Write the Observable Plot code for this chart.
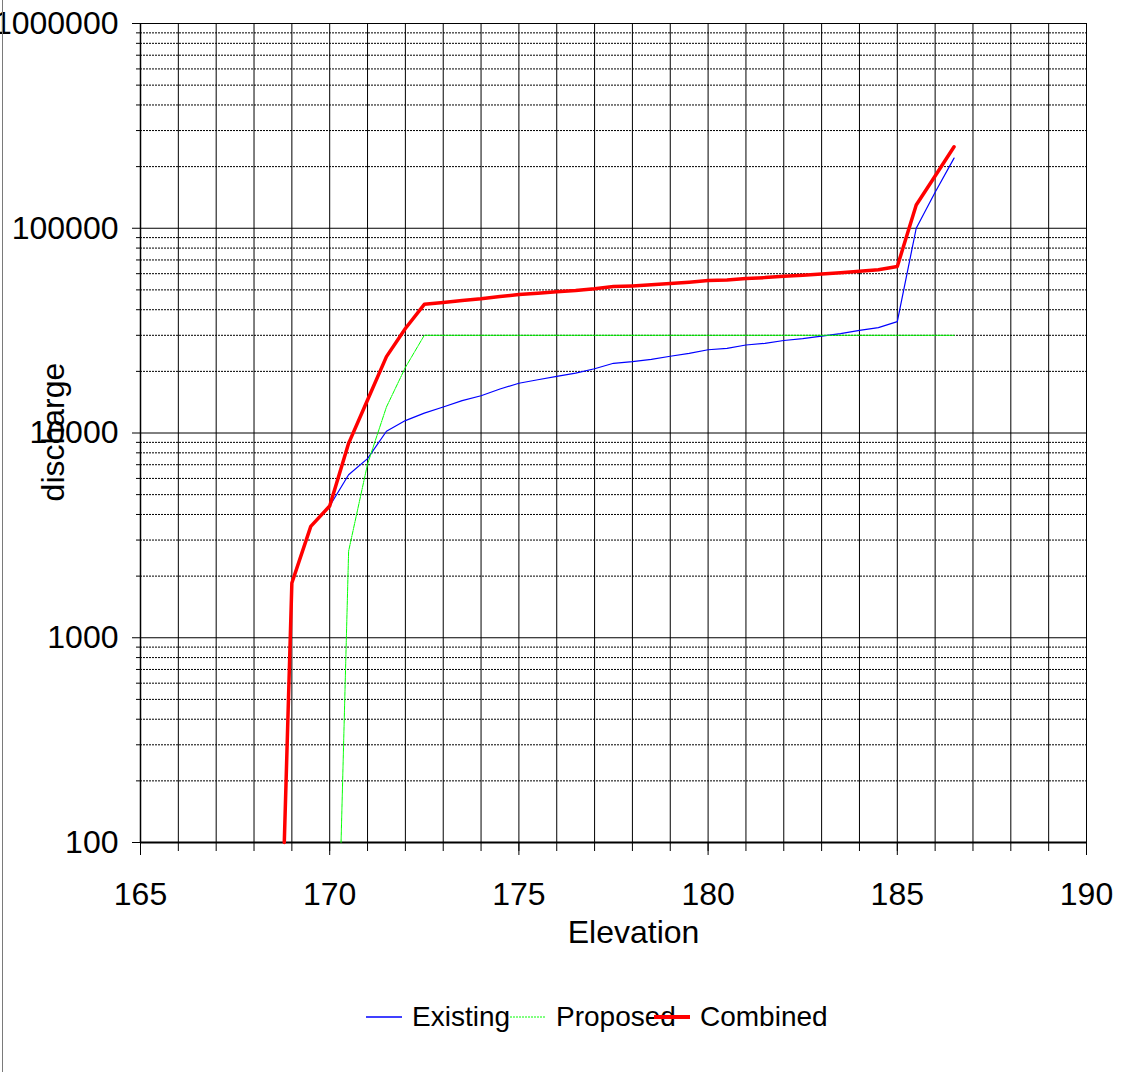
<!DOCTYPE html>
<html>
<head>
<meta charset="utf-8">
<script src="https://cdn.jsdelivr.net/npm/d3@7"></script>
<script src="https://cdn.jsdelivr.net/npm/@observablehq/plot@0.6"></script>
<style>
  html, body { margin: 0; padding: 0; background: #fff; }
  body { width: 1125px; height: 1072px; position: relative; overflow: hidden; font-family: "Liberation Sans", Arial, sans-serif; }
  #frame { position: absolute; left: 2px; top: 0; width: 1px; height: 1072px; background: #7a7a7a; z-index: 5; }
  #legend { display: flex; padding-left: 366px; height: 40px; margin-top: 17px; align-items: center; }
  .item { flex: none; width: 144px; display: flex; align-items: center; white-space: nowrap; font-size: 28px; line-height: 1; color: #000; }
  .item svg { flex: none; margin-right: 10px; overflow: visible; }
</style>
</head>
<body>
<div id="chart"></div>
<div id="legend"></div>
<div id="frame"></div>
<script>
// ---- data ----
const existingElev = [168.8,169,169.5,170,170.5,171,171.5,172,172.5,173,173.5,174,174.5,175,175.5,176,176.5,177,177.5,178,178.5,179,179.5,180,180.5,181,181.5,182,182.5,183,183.5,184,184.5,185,185.5,186,186.5];
const existingQ = [100,1850,3500,4400,6250,7500,10200,11500,12500,13400,14400,15200,16400,17500,18200,18900,19600,20600,21900,22300,22900,23700,24500,25500,25900,26900,27400,28300,28900,29700,30600,31700,32700,35000,100000,150000,220000];

const proposedElev = [170.3,170.5,171,171.5,172,172.5,186.5];
const proposedQ = [100,2650,7050,13400,20900,30000,30000];

const combinedElev = existingElev;
const combinedQ = [100,1850,3500,4400,8900,14500,23600,32400,42500,43400,44400,45200,46400,47500,48200,48900,49600,50600,51900,52300,52900,53700,54500,55500,55900,56900,57400,58300,58900,59700,60600,61700,62700,65000,130000,180000,250000];

const seriesNames = ["Existing", "Proposed", "Combined"];
const seriesColors = ["#0000ff", "#00ff00", "#ff0000"];

const xTickLabels = [165,170,175,180,185,190];
const xGrid = [165,166,167,168,169,170,171,172,173,174,175,176,177,178,179,180,181,182,183,184,185,186,187,188,189,190];
const yMajor = [100,1000,10000,100000,1000000];
const yMinor = [200,300,400,500,600,700,800,900,2000,3000,4000,5000,6000,7000,8000,9000,20000,30000,40000,50000,60000,70000,80000,90000,200000,300000,400000,500000,600000,700000,800000,900000];

const xTitle = "Elevation";
const yTitle = "discharge";

const toRows = (xs, ys) => xs.map((e, i) => ({e, q: ys[i]}));
const existing = toRows(existingElev, existingQ);
const proposed = toRows(proposedElev, proposedQ);
const combined = toRows(combinedElev, combinedQ);

const chart = Plot.plot({
  width: 1125,
  height: 980,
  marginLeft: 140,
  marginRight: 39,
  marginTop: 23,
  marginBottom: 138,
  style: {fontFamily: "'Liberation Sans', Arial, sans-serif", fontSize: "32px", color: "#000", background: "#fff", overflow: "visible"},
  x: {domain: [165, 190], label: null},
  y: {type: "log", domain: [100, 1000000], label: null},
  marks: [
    Plot.ruleY(yMinor, {stroke: "#000", strokeWidth: 1, strokeDasharray: "2,1"}),
    Plot.ruleY(yMajor, {stroke: "#000", strokeWidth: 1}),
    Plot.ruleX(xGrid, {stroke: "#000", strokeWidth: 1}),
    Plot.ruleX([165], {stroke: "#000", strokeWidth: 1.5}),
    Plot.ruleY([100], {stroke: "#000", strokeWidth: 2}),
    Plot.axisX(xGrid, {tickSize: 9, tickFormat: () => "", label: null}),
    Plot.axisX(xTickLabels, {tickSize: 13, tickPadding: 27, tickFormat: d => String(d), label: null}),
    Plot.axisY(yMinor, {tickSize: 4, tickFormat: () => "", label: null}),
    Plot.axisY(yMajor, {tickSize: 8, tickPadding: 14, tickFormat: d3.format("d"), label: null}),
    Plot.line(existing, {x: "e", y: "q", stroke: seriesColors[0], strokeWidth: 1.2}),
    Plot.line(proposed, {x: "e", y: "q", stroke: seriesColors[1], strokeWidth: 1, strokeDasharray: "4,1,1,1"}),
    Plot.line(combined, {x: "e", y: "q", stroke: seriesColors[2], strokeWidth: 3.5}),
    Plot.text([xTitle], {frameAnchor: "bottom", textAnchor: "middle", lineAnchor: "middle", dx: 20, dy: 90, fontSize: 32, fill: "#000"}),
    Plot.text([yTitle], {frameAnchor: "left", textAnchor: "middle", lineAnchor: "middle", rotate: -90, dx: -87, dy: -1, fontSize: 32, fill: "#000"})
  ]
});
document.getElementById("chart").appendChild(chart);

// legend
const legend = d3.select("#legend");
const dashes = [null, "2,1", null];
const widths = [1.3, 1, 4];
seriesNames.forEach((name, i) => {
  const item = legend.append("div").attr("class", "item");
  const sw = item.append("svg").attr("width", 36).attr("height", 10);
  sw.append("line").attr("x1", 0).attr("x2", 36).attr("y1", 5).attr("y2", 5)
    .attr("stroke", seriesColors[i]).attr("stroke-width", widths[i])
    .attr("stroke-dasharray", dashes[i]);
  item.append("span").text(name);
});
</script>
</body>
</html>
